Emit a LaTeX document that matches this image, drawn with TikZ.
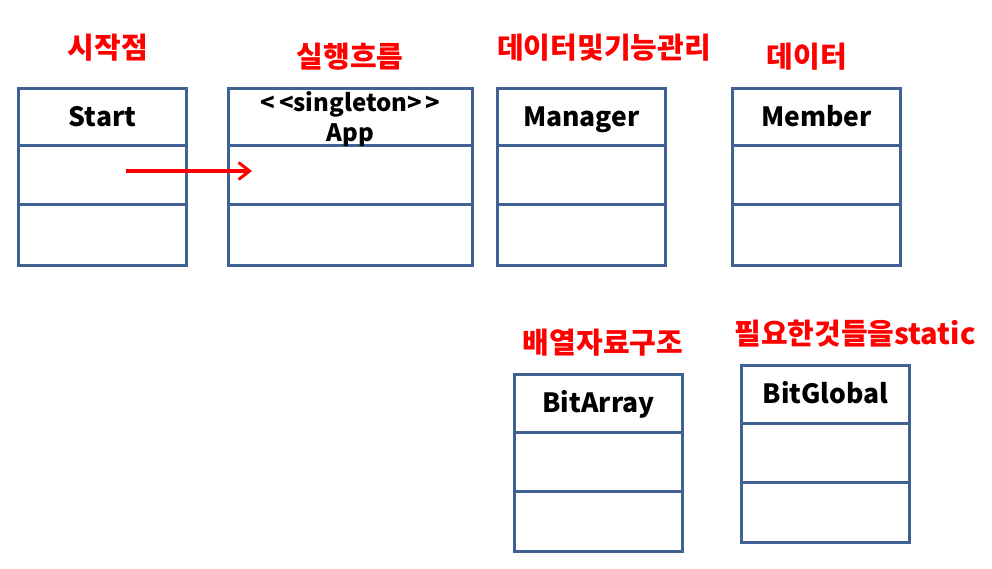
\documentclass[tikz,border=0pt]{standalone}
\usepackage{fontspec}
\setmainfont{Noto Sans CJK KR}
\usetikzlibrary{arrows.meta}
\definecolor{umlblue}{RGB}{64,98,146}
\definecolor{lblred}{RGB}{255,0,0}
\tikzset{
  cls/.style={draw=umlblue, line width=3pt, minimum width=168pt, minimum height=177pt, anchor=north west, inner sep=0pt, fill=white},
  divline/.style={draw=umlblue, line width=3pt},
  ctitle/.style={font=\fontsize{26.5}{30}\selectfont\bfseries, text=black, inner sep=0pt, align=center, text height=19pt, text depth=6pt},
  redlbl/.style={font=\fontsize{29}{32}\selectfont\bfseries, text=lblred, inner sep=0pt},
  flow/.style={draw=lblred, line width=3.2pt, -{Straight Barb[length=11pt,width=17pt,line width=3pt]}}
}
\newcommand{\clsdividers}[1]{%
  \draw[divline] ([yshift=-59pt]#1.north west) -- ([yshift=-59pt]#1.north east);
  \draw[divline] ([yshift=-118pt]#1.north west) -- ([yshift=-118pt]#1.north east);
}
\begin{document}
\begin{tikzpicture}[x=1pt,y=-1pt]
\useasboundingbox (0,0) rectangle (992,569);
% classes
\node[cls] (start) at (17,87) {};
\node[cls, minimum width=244pt] (app) at (227,87) {};
\node[cls] (manager) at (496,87) {};
\node[cls] (member) at (731,87) {};
\node[cls] (bitarray) at (513,373) {};
\node[cls] (bitglobal) at (740,364) {};
\clsdividers{start}
\clsdividers{app}
\clsdividers{manager}
\clsdividers{member}
\clsdividers{bitarray}
\clsdividers{bitglobal}
% titles
\node[ctitle] (tstart) at ([yshift=-33pt]start.north) {Start};
\node[ctitle, font=\fontsize{24}{30}\selectfont\bfseries, text height=, text depth=] (tapp) at ([yshift=-32pt]app.north) {<\,<singleton>\,>\\App};
\node[ctitle] (tmanager) at ([yshift=-33pt]manager.north) {Manager};
\node[ctitle] (tmember) at ([yshift=-33pt]member.north) {Member};
\node[ctitle] (tbitarray) at ([yshift=-33pt]bitarray.north) {BitArray};
\node[ctitle] (tbitglobal) at ([yshift=-33pt]bitglobal.north) {BitGlobal};
% red labels
\node[redlbl] (l1) at (108,48) {시작점};
\node[redlbl] (l2) at (350,57) {실행흐름};
\node[redlbl] (l3) at (604,48) {데이터및기능관리};
\node[redlbl] (l4) at (807,57) {데이터};
\node[redlbl] (l5) at (603,343) {배열자료구조};
\node[redlbl] (l6) at (855,334) {필요한것들을static};
% arrow
\coordinate (a1) at ([xshift=109pt,yshift=-84pt]start.north west);
\coordinate (a2) at ([xshift=25pt,yshift=-84pt]app.north west);
\draw[flow] (a1) -- (a2);
\end{tikzpicture}
\end{document}
